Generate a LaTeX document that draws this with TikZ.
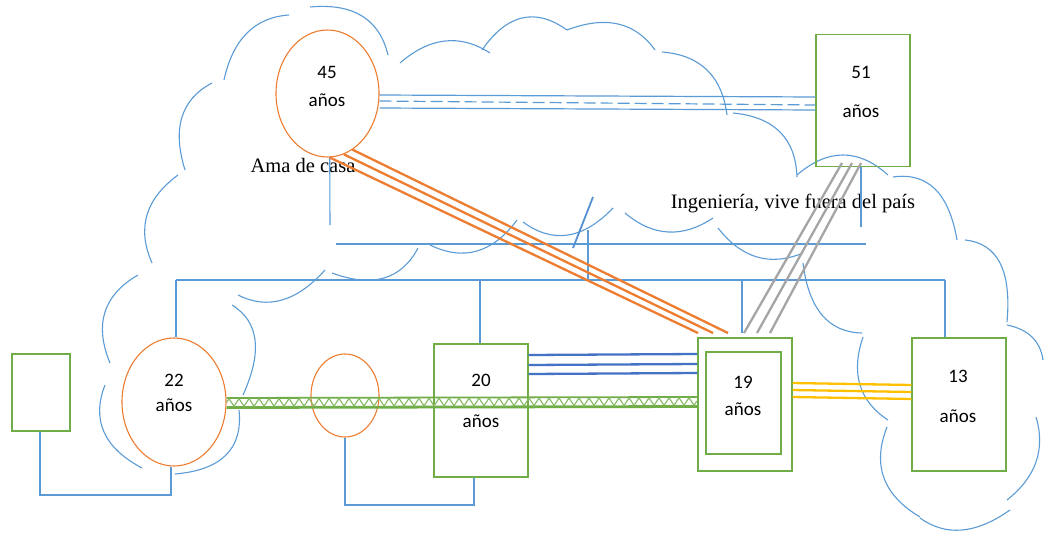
\documentclass[tikz,border=0pt]{standalone}
\usepackage{fontspec}
\setmainfont{Liberation Serif}
\newfontfamily\calib{Carlito}
\usetikzlibrary{decorations.pathmorphing,shapes.geometric}
\definecolor{cblue}{HTML}{5B9BD5}
\definecolor{dblue}{HTML}{4472C4}
\definecolor{corange}{HTML}{ED7D31}
\definecolor{cgreen}{HTML}{70AD47}
\definecolor{cgray}{HTML}{A5A5A5}
\definecolor{cyellow}{HTML}{FFC000}
\begin{document}
\begin{tikzpicture}[x=1pt,y=-1pt,
  cloudline/.style={cblue, line width=1.1pt},
  conn/.style={cblue, line width=1.1pt},
  ell/.style={ellipse, draw=corange, line width=1.1pt, inner sep=0pt},
  box/.style={rectangle, draw=cgreen, line width=1.1pt, inner sep=0pt},
  num/.style={font=\calib\fontsize{19}{22}\selectfont, inner sep=0pt},
  lab/.style={font=\fontsize{20.5}{24}\selectfont, inner sep=0pt},
  triple/.style={line width=2.3pt},
]
\fill[white] (0,0) rectangle (1045,533);
\useasboundingbox (0,0) rectangle (1045,533);

% cloud outline: each bump from A through M to B
\foreach \ax/\ay/\mx/\my/\bx/\by in {
 224/80/247/33/289/15,
 310/7/362/16/388/55,
 400/63/445/41/490/53,
 482/50/522/18/567/30,
 567/30/618/24/655/50,
 662/52/707/70/727/115,
 733/113/780/132/797/177,
 797/175/843/155/888/175,
 893/177/935/189/957/240,
 965/240/1000/263/1007/322,
 1007/325/1032/337/1043/360,
 1036/417/1036/462/1007/500,
 1010/510/962/530/920/518,
 920/517/884/478/887/427,
 888/420/860/385/863/337,
 862/333/822/315/803/263,
 803/253/757/257/718/228,
 713/218/668/232/625/213,
 613/208/568/235/523/222,
 517/220/477/251/430/245,
 418/248/384/278/332/273,
 325/270/282/300/238/295,
 232/305/255/340/243/395,
 239/410/226/455/175/474,
 142/468/104/432/105/385,
 110/363/105/312/138/275,
 152/263/147/215/178/175,
 185/170/182/117/212/83}
 {\draw[cloudline] (\ax,\ay) .. controls ({(4*\mx-\bx)/3},{(4*\my-\by)/3}) and ({(4*\mx-\ax)/3},{(4*\my-\ay)/3}) .. (\bx,\by);}

% persons
\node[ell, minimum width=103pt, minimum height=127pt] (e45) at (327.5,93.5) {};
\node[box, minimum width=94pt, minimum height=132pt] (b51) at (863,100.5) {};
\node[ell, minimum width=104pt, minimum height=128pt] (e22) at (174,402) {};
\node[box, minimum width=58pt, minimum height=77pt] (bx) at (41,392.5) {};
\node[ell, minimum width=68pt, minimum height=83pt] (es) at (345,395.5) {};
\node[box, minimum width=94pt, minimum height=133pt] (b20) at (481,410.5) {};
\node[box, minimum width=94pt, minimum height=133pt] (b19) at (745,404.5) {};
\node[box, minimum width=75pt, minimum height=102pt] (b19i) at (743.5,403) {};
\node[box, minimum width=94pt, minimum height=133pt] (b13) at (959,404.5) {};

% texts
\node[num] (t45a) at (327,72) {45};
\node[num] (t45b) at (327,100) {años};
\node[num] (t51a) at (861,72) {51};
\node[num] (t51b) at (861,111) {años};
\node[num] (t22a) at (174,380) {22};
\node[num] (t22b) at (174,405) {años};
\node[num] (t20a) at (481,380) {20};
\node[num] (t20b) at (481,421) {años};
\node[num] (t19a) at (743,382) {19};
\node[num] (t19b) at (743,409) {años};
\node[num] (t13a) at (958,376) {13};
\node[num] (t13b) at (958,416) {años};
\node[lab] (ama) at (303,165) {Ama de casa};
\node[lab] (ing) at (793,203) {Ingeniería, vive fuera del país};

% family tree connectors
\coordinate (v1e) at (330,225);
\draw[conn] (e45.-88) -- (v1e);
\coordinate (h1a) at (336,244);
\coordinate (h1b) at (866,244);
\draw[conn] (h1a) -- (h1b);
\coordinate (v2e) at (861,227);
\draw[conn] (b51.south -| v2e) -- (v2e);
\coordinate (v3a) at (588,230);
\coordinate (v3b) at (588,280);
\draw[conn] (v3a) -- (v3b);
\coordinate (sa) at (593,197);
\coordinate (sb) at (573,248);
\draw[cblue!75!dblue, line width=1.8pt] (sa) -- (sb);
\coordinate (h2a) at (176,280);
\coordinate (h2b) at (945,280);
\draw[conn] (h2a) -- (h2b);
\draw[conn] (h2a) -- (e22.north -| h2a);
\draw[conn] (480,280) -- (b20.north -| 480,0);
\draw[conn] (742,280) -- (742,333);
\draw[conn] (h2b) -- (b13.north -| h2b);
\draw[conn] (bx.south -| 40,0) -- (40,495) -- (171,495) -- (e22.south -| 171,0);
\draw[conn] (es.south) -- (345,505) -- (474,505) -- (b20.south -| 474,0);

% 45 -- 51
\draw[cblue, line width=1.2pt] (e45.east |- 0,95) -- (b51.west |- 0,97);
\draw[cblue, line width=1.2pt, dash pattern=on 12pt off 5pt] (e45.east |- 0,101) -- (b51.west |- 0,105);
\draw[cblue, line width=1.2pt] (e45.east |- 0,108) -- (b51.west |- 0,110);

% orange 45 -- 19
\draw[corange, triple] (e45.-88) -- (698,333);
\draw[corange, triple] (e45.-75) -- (713,333);
\draw[corange, triple] (e45.-66) -- (728,333);

% gray 51 -- 19
\draw[cgray, triple] (842,163) -- (744,333);
\draw[cgray, triple] (852,163) -- (757,333);
\draw[cgray, triple] (861,163) -- (770,333);

% dark blue 20 -- 19
\draw[dblue, triple] (b20.east |- 0,355) -- (b19.west |- 0,354);
\draw[dblue, triple] (b20.east |- 0,365) -- (b19.west |- 0,364);
\draw[dblue, triple] (b20.east |- 0,374) -- (b19.west |- 0,373);

% yellow 19 -- 13
\draw[cyellow, triple] (b19.east |- 0,383) -- (b13.west |- 0,385);
\draw[cyellow, triple] (b19.east |- 0,390) -- (b13.west |- 0,392);
\draw[cyellow, triple] (b19.east |- 0,397) -- (b13.west |- 0,399);

% green band 22 -- 19
\draw[cgreen, line width=1.8pt] (e22.east |- 0,398) -- (b19.west |- 0,397);
\draw[cgreen, line width=2.8pt] (e22.east |- 0,407.5) -- (b19.west |- 0,406.5);
\draw[cgreen!85, line width=1.1pt, decorate, decoration={zigzag, segment length=10pt, amplitude=3.8pt}] (e22.east |- 0,402.5) -- (b19.west |- 0,401.5);
\end{tikzpicture}
\end{document}
